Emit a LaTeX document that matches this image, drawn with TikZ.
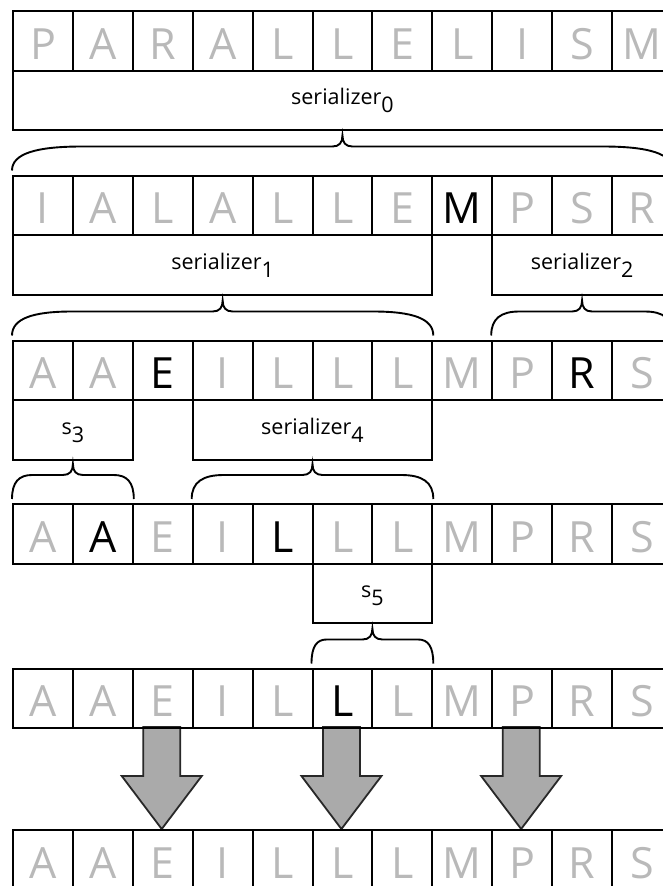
\documentclass[tikz,border=0pt]{standalone}
\usepackage{fontspec}
\setmainfont{Open Sans}
\usetikzlibrary{calc}
\definecolor{lg}{RGB}{185,185,185}
\definecolor{arrfill}{RGB}{170,170,170}
\definecolor{arrdraw}{RGB}{40,40,40}
\newcommand\mybrace[3]{%
  \draw[brc] let \p1=(#1.north west), \p2=(#2.north east), \p3=($(\p1)!0.5!(\p2)$) in
    (\x1,\y1+4pt) .. controls (\x1,\y1+21pt) and (\x1+0.35*#3,\y1+28pt) .. (\x1+#3,\y1+28pt)
    -- (\x3-10pt,\y1+28pt) .. controls (\x3-3pt,\y1+28pt) and (\x3,\y1+32pt) .. (\x3,\y1+39pt)
    .. controls (\x3,\y1+32pt) and (\x3+3pt,\y1+28pt) .. (\x3+10pt,\y1+28pt)
    -- (\x2-#3,\y1+28pt) .. controls (\x2-0.35*#3,\y1+28pt) and (\x2,\y1+21pt) .. (\x2,\y1+4pt);}
\newcommand\bigdownarr[1]{%
  \draw[arr] ({#1-18.5},727) -- ({#1-18.5},776) -- ({#1-40},776) -- (#1,829)
    -- ({#1+40},776) -- ({#1+18.5},776) -- ({#1+18.5},727) -- cycle;}
\begin{document}
\begin{tikzpicture}[x=1pt,y=-1pt,
  cell/.style={draw=black, line width=2pt, minimum width=59.9pt, minimum height=59.5pt,
    inner sep=0pt, text height=37pt, text depth=0pt,
    font=\fontsize{43}{43}\selectfont, anchor=north west},
  sbox/.style={draw=black, line width=2pt, minimum height=59.5pt, inner sep=0pt,
    text height=8.6pt, text depth=0pt, font=\fontsize{21.5}{21.5}\selectfont, anchor=north west},
  brc/.style={draw=black, line width=1.9pt},
  arr/.style={fill=arrfill, draw=arrdraw, line width=1.8pt, line join=miter}
]
\useasboundingbox (0,0) rectangle (663,886);
\clip (0,0) rectangle (663,886);
\fill[white] (0,0) rectangle (663,886);
% arrows
\bigdownarr{161.75}
\bigdownarr{341.45}
\bigdownarr{521.15}
% row 1
\foreach \L/\c [count=\i from 0] in {P/lg,A/lg,R/lg,A/lg,L/lg,L/lg,E/lg,L/lg,I/lg,S/lg,M/lg}
  \node[cell,text=\c] (ra\i) at ({12+59.9*\i},10) {\L};
% row 2
\foreach \L/\c [count=\i from 0] in {I/lg,A/lg,L/lg,A/lg,L/lg,L/lg,E/lg,M/black,P/lg,S/lg,R/lg}
  \node[cell,text=\c] (rb\i) at ({12+59.9*\i},174.5) {\L};
% row 3
\foreach \L/\c [count=\i from 0] in {A/lg,A/lg,E/black,I/lg,L/lg,L/lg,L/lg,M/lg,P/lg,R/black,S/lg}
  \node[cell,text=\c] (rc\i) at ({12+59.9*\i},339.5) {\L};
% row 4
\foreach \L/\c [count=\i from 0] in {A/lg,A/black,E/lg,I/lg,L/black,L/lg,L/lg,M/lg,P/lg,R/lg,S/lg}
  \node[cell,text=\c] (rd\i) at ({12+59.9*\i},503) {\L};
% row 5
\foreach \L/\c [count=\i from 0] in {A/lg,A/lg,E/lg,I/lg,L/lg,L/black,L/lg,M/lg,P/lg,R/lg,S/lg}
  \node[cell,text=\c] (re\i) at ({12+59.9*\i},667.5) {\L};
% row 6
\foreach \L/\c [count=\i from 0] in {A/lg,A/lg,E/lg,I/lg,L/lg,L/lg,L/lg,M/lg,P/lg,R/lg,S/lg}
  \node[cell,text=\c] (rf\i) at ({12+59.9*\i},829) {\L};
% serializer boxes
\node[sbox,minimum width=658.9pt] (s0) at (12,69.5) {serializer\raisebox{-8.4pt}{0}};
\node[sbox,minimum width=419.3pt] (s1) at (12,234) {serializer\raisebox{-8.4pt}{1}};
\node[sbox,minimum width=179.7pt] (s2) at (491.2,234) {serializer\raisebox{-8.4pt}{2}};
\node[sbox,minimum width=119.8pt] (s3) at (12,399) {s\raisebox{-8.4pt}{3}};
\node[sbox,minimum width=239.6pt] (s4) at (191.7,399) {serializer\raisebox{-8.4pt}{4}};
\node[sbox,minimum width=119.8pt] (s5) at (311.5,562.5) {s\raisebox{-8.4pt}{5}};
% braces
\mybrace{rb0}{rb10}{70pt}
\mybrace{rc0}{rc6}{60pt}
\mybrace{rc8}{rc10}{28pt}
\mybrace{rd0}{rd1}{20pt}
\mybrace{rd3}{rd6}{32pt}
\mybrace{re5}{re6}{15pt}
\end{tikzpicture}
\end{document}
